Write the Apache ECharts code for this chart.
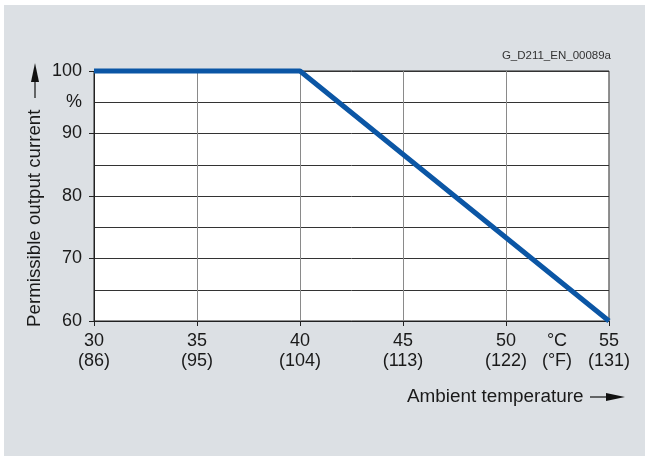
<!DOCTYPE html>
<html>
<head>
<meta charset="utf-8">
<title>Permissible output current</title>
<script src="https://cdn.jsdelivr.net/npm/echarts@6/dist/echarts.min.js"></script>
<style>
  html, body { margin: 0; padding: 0; background: #ffffff; }
  #chart { position: absolute; left: 4px; top: 5px; width: 641px; height: 451px; background: #dce0e4; }
</style>
</head>
<body>
<div id="chart"></div>
<script>
// data
var tempC = [30, 40, 55];
var current = [100, 100, 60];
var xTicksC = [30, 35, 40, 45, 50, 55];
var xTicksF = ['(86)', '(95)', '(104)', '(113)', '(122)', '(131)'];
var yTicks = [60, 70, 80, 90, 100];

var chart = echarts.init(document.getElementById('chart'));
var font = 'Liberation Sans, Arial, sans-serif';
var txt = '#1a1a1a';

chart.setOption({
  animation: false,
  textStyle: { fontFamily: font },
  title: {
    text: 'G_D211_EN_00089a',
    right: 34, top: 45, padding: 0,
    textStyle: { fontSize: 11.5, fontWeight: 'normal', color: '#333', fontFamily: font }
  },
  grid: { left: 90, right: 36, top: 66, bottom: 135, show: true, borderColor: '#222', borderWidth: 1, backgroundColor: '#fff' },
  xAxis: {
    type: 'value', min: 30, max: 55, interval: 5,
    axisLine: { lineStyle: { color: '#222' } },
    axisTick: { show: true, length: 5, lineStyle: { color: '#222' } },
    splitLine: { show: true, lineStyle: { color: '#8a8a8a', width: 1 } },
    axisLabel: {
      color: txt, fontSize: 18, lineHeight: 20, margin: 10, showMaxLabel: true, showMinLabel: true,
      formatter: function (v) {
        var i = xTicksC.indexOf(v);
        return i < 0 ? '' : v + '\n' + xTicksF[i];
      }
    }
  },
  yAxis: [{
    type: 'value', min: 60, max: 100, interval: 10,
    axisLine: { show: true, lineStyle: { color: '#222' } },
    axisTick: { show: true, length: 5, lineStyle: { color: '#222' } },
    splitLine: { show: false },
    axisLabel: {
      color: txt, fontSize: 18, margin: 12,
      formatter: function (v) { return yTicks.indexOf(v) >= 0 ? String(v) : ''; }
    }
  }, {
    type: 'value', min: 60, max: 100, interval: 5, position: 'left',
    axisLine: { show: false }, axisTick: { show: false },
    splitLine: { show: true, lineStyle: { color: '#333', width: 1 } },
    axisLabel: {
      color: txt, fontSize: 18, margin: 12,
      formatter: function (v) { return v === 95 ? '%' : ''; }
    }
  }],
  series: [{
    type: 'line',
    yAxisIndex: 0,
    data: tempC.map(function (t, i) { return [t, current[i]]; }),
    showSymbol: false,
    clip: false,
    lineStyle: { color: '#0b56a5', width: 5 },
    z: 5
  }],
  graphic: [
    {
      type: 'text', x: 31, y: 322, rotation: Math.PI / 2, scaleX: 1.04,
      style: { text: 'Permissible output current', font: '18px ' + font, fill: txt, textAlign: 'left', textVerticalAlign: 'middle' }
    },
    { type: 'line', shape: { x1: 31, y1: 93, x2: 31, y2: 76 }, style: { stroke: '#111', lineWidth: 1.2 } },
    { type: 'polygon', shape: { points: [[31, 58], [27, 77], [35, 77]] }, style: { fill: '#111' } },
    {
      type: 'text', x: 403, y: 392, scaleX: 1.05,
      style: { text: 'Ambient temperature', font: '18px ' + font, fill: txt, textAlign: 'left', textVerticalAlign: 'middle' }
    },
    { type: 'line', shape: { x1: 586, y1: 392, x2: 606, y2: 392 }, style: { stroke: '#111', lineWidth: 1.2 } },
    { type: 'polygon', shape: { points: [[621, 392], [602, 388], [602, 396]] }, style: { fill: '#111' } },
    {
      type: 'text', x: 553, y: 346,
      style: { text: '°C\n(°F)', font: '18px ' + font, fill: txt, textAlign: 'center', textVerticalAlign: 'middle', lineHeight: 20 }
    }
  ]
});
</script>
</body>
</html>
